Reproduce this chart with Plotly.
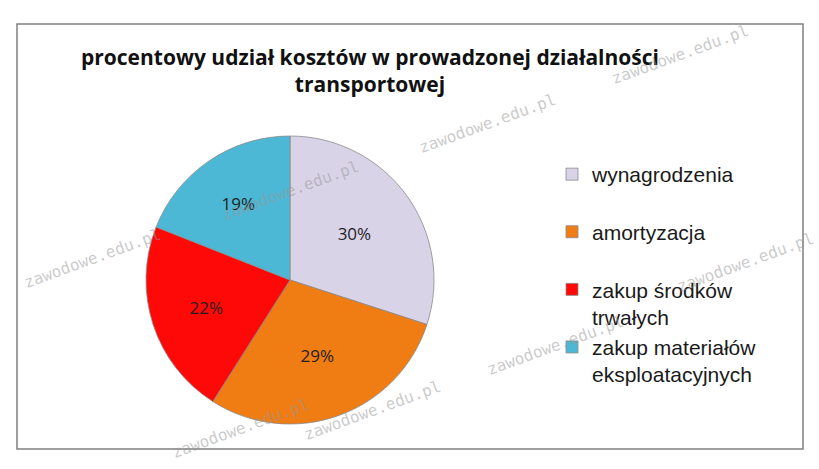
import plotly.graph_objects as go

categories = ["wynagrodzenia", "amortyzacja", "zakup środków<br>trwałych", "zakup materiałów<br>eksploatacyjnych"]
values = [30, 29, 22, 19]
colors = ["#D9D3E8", "#F07D14", "#FF0808", "#4DB8D5"]
title_text = "procentowy udział kosztów w prowadzonej działalności<br>transportowej"
watermark = "zawodowe.edu.pl"

legend_labels = [c if "<br>" in c else c + "<br> " for c in categories]

fig = go.Figure(go.Pie(
    labels=legend_labels,
    values=values,
    sort=False,
    direction="clockwise",
    rotation=0,
    marker=dict(colors=colors, line=dict(color="#8a8a8a", width=0.8)),
    textinfo="percent",
    texttemplate="%{percent:.0%}",
    textposition="inside",
    insidetextorientation="horizontal",
    textfont=dict(family="Open Sans", size=17, color="#1e1e1e"),
    domain=dict(x=[146/819, 434/819], y=[45/469, 333/469]),
    hoverinfo="label+percent",
))

wm_pos = [(680, 55), (487, 123), (290, 190), (92, 258), (745, 262), (555, 345), (372, 410), (240, 428)]
annotations = []
for (px, py) in wm_pos:
    annotations.append(dict(
        text=watermark, x=px/819, y=1 - py/469, xref="paper", yref="paper",
        xanchor="center", yanchor="middle",
        showarrow=False, textangle=-20,
        font=dict(family="DejaVu Sans Mono", size=16, color="rgba(150,150,150,0.5)"),
    ))

fig.update_layout(
    width=819, height=469,
    margin=dict(l=0, r=0, t=0, b=0),
    paper_bgcolor="white",
    plot_bgcolor="white",
    title=dict(text=title_text, x=370/819, xanchor="center", y=1 - 65/469, yanchor="top",
               font=dict(family="Open Sans", size=21, color="#111111", weight="bold")),
    legend=dict(x=552/819, y=1 - 154/469, xanchor="left", yanchor="top",
                font=dict(family="Liberation Sans", size=21, color="#1a1a1a"),
                valign="top", bgcolor="rgba(0,0,0,0)"),
    shapes=[dict(type="rect", xref="paper", yref="paper",
                 x0=17/819, x1=803/819, y0=20/469, y1=445/469,
                 line=dict(color="#808080", width=1.5))],
    annotations=annotations,
)

fig.write_html("out.html")
